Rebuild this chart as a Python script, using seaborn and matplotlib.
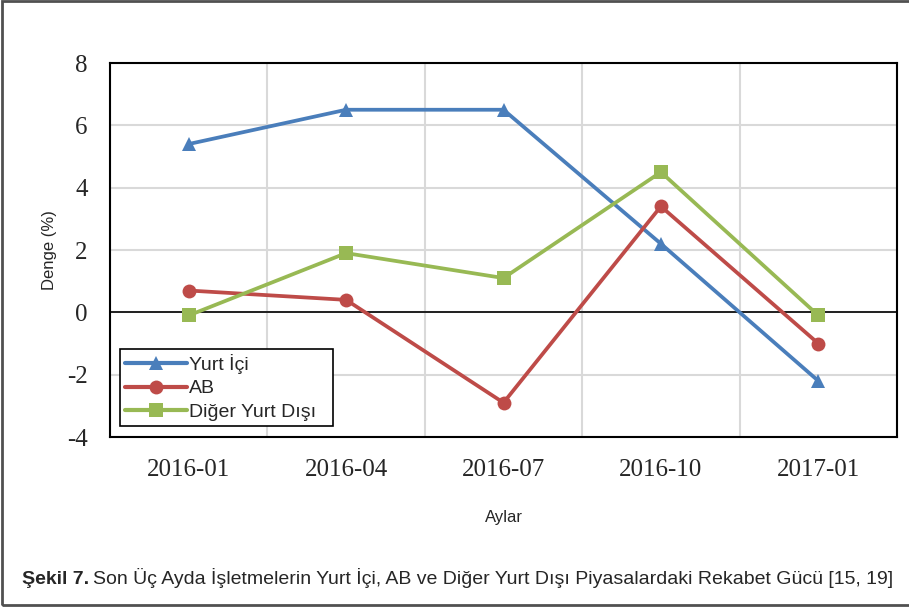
import numpy as np
import pandas as pd
import matplotlib
matplotlib.use('Agg')
import matplotlib.pyplot as plt
import matplotlib.patches as mpatches
import seaborn as sns

# Data
months = ['2016-01', '2016-04', '2016-07', '2016-10', '2017-01']
yurt_ici = [5.4, 6.5, 6.5, 2.2, -2.2]
ab = [0.7, 0.4, -2.9, 3.4, -1.0]
diger = [-0.1, 1.9, 1.1, 4.5, -0.1]
series_names = ['Yurt İçi', 'AB', 'Diğer Yurt Dışı']
y_ticks = [-4, -2, 0, 2, 4, 6, 8]

df = pd.DataFrame({'Ay': months * 3,
                   'Denge': yurt_ici + ab + diger,
                   'Seri': [s for s in series_names for _ in months]})

sns.set_style('white')
plt.rcParams['font.family'] = ['Liberation Sans', 'DejaVu Sans']
plt.rcParams['axes.unicode_minus'] = False

fig = plt.figure(figsize=(9.09, 6.09), dpi=100)
ax = fig.add_axes([110 / 909, 1 - 437 / 609, 787 / 909, 374 / 609])

palette = {'Yurt İçi': '#4A7EBB', 'AB': '#BE4B48', 'Diğer Yurt Dışı': '#98B954'}
markers = {'Yurt İçi': '^', 'AB': 'o', 'Diğer Yurt Dışı': 's'}
sns.lineplot(data=df, x='Ay', y='Denge', hue='Seri', style='Seri', palette=palette,
             markers=markers, dashes=False, linewidth=2.7, markersize=10,
             markeredgewidth=0, ax=ax, sort=False, zorder=3)

ax.set_xlim(-0.5, 4.5)
ax.set_ylim(-4, 8)
ax.set_yticks(y_ticks)
ax.set_xticks(range(len(months)))
ax.set_xticklabels(months)
ax.set_xticks(np.arange(-0.5, 4.6, 0.5), minor=True)
ax.grid(True, which='major', axis='y', color='#D9D9D9', lw=1.5, zorder=0)
ax.grid(True, which='minor', axis='x', color='#D9D9D9', lw=1.5, zorder=0)
ax.axhline(0, color='black', lw=1.2, zorder=2)
ax.tick_params(which='both', length=0)
ax.tick_params(axis='x', pad=16)
ax.tick_params(axis='y', pad=16)
for lab in ax.get_xticklabels() + ax.get_yticklabels():
    lab.set_fontfamily('Liberation Serif')
    lab.set_fontsize(18)
for sp in ax.spines.values():
    sp.set_color('black')
    sp.set_linewidth(1.5)

ax.set_xlabel('Aylar', fontsize=12, labelpad=21)
ax.set_ylabel('Denge (%)', fontsize=12, labelpad=7)

leg = ax.legend(loc='lower left', bbox_to_anchor=(0.013, 0.03, 0.27, 0.2), mode='expand',
                fontsize=14, frameon=True, fancybox=False, edgecolor='black',
                framealpha=1, handlelength=3.2, handletextpad=0.1, labelspacing=0.3,
                borderpad=0.25, borderaxespad=0)
leg.get_frame().set_linewidth(1.2)
for h in leg.legend_handles:
    h.set_linewidth(3)
    h.set_markersize(10)

# caption: bold prefix followed by regular text
fig.canvas.draw()
r = fig.canvas.get_renderer()
t1 = fig.text(22 / 909, 1 - 584 / 609, 'Şekil 7.', fontsize=14, fontweight='bold',
              va='baseline', ha='left')
bb = t1.get_window_extent(renderer=r)
fig.text((bb.x1 + 4) / 909, 1 - 584 / 609,
         'Son Üç Ayda İşletmelerin Yurt İçi, AB ve Diğer Yurt Dışı Piyasalardaki Rekabet Gücü [15, 19]',
         fontsize=14, va='baseline', ha='left')

fig.patches.append(mpatches.Rectangle((2 / 909, 1 - 605 / 609), 910 / 909, 604 / 609,
                                      transform=fig.transFigure, fill=False,
                                      edgecolor='#505050', lw=2))

fig.savefig('out.png', dpi=100)
